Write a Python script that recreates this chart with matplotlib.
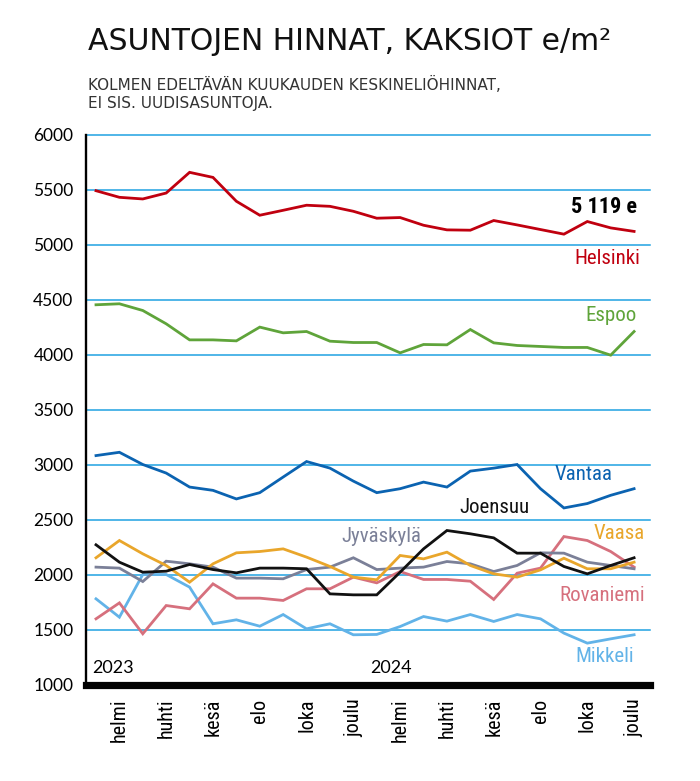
import matplotlib
matplotlib.use("Agg")
import matplotlib.pyplot as plt
from matplotlib import font_manager as fm

# ---- data ----
months = list(range(24))  # Jan 2023 .. Dec 2024
tick_pos = [1, 3, 5, 7, 9, 11, 13, 15, 17, 19, 21, 23]
tick_labels = ["helmi", "huhti", "kesä", "elo", "loka", "joulu",
               "helmi", "huhti", "kesä", "elo", "loka", "joulu"]
yticks = [1000, 1500, 2000, 2500, 3000, 3500, 4000, 4500, 5000, 5500, 6000]

helsinki = [5489, 5429, 5414, 5468, 5656, 5610, 5393, 5266, 5311, 5357, 5347, 5302,
            5239, 5245, 5175, 5133, 5130, 5218, 5178, 5136, 5094, 5209, 5151, 5119]
espoo = [4452, 4461, 4400, 4279, 4133, 4133, 4124, 4249, 4197, 4209, 4121, 4109,
         4109, 4015, 4091, 4088, 4227, 4106, 4082, 4073, 4064, 4064, 3994, 4209]
vantaa = [3081, 3111, 3000, 2922, 2795, 2765, 2687, 2744, 2886, 3027, 2967, 2849,
          2744, 2780, 2840, 2795, 2940, 2967, 3000, 2780, 2605, 2645, 2720, 2780]
joensuu = [2270, 2112, 2021, 2030, 2091, 2045, 2015, 2058, 2058, 2052, 1824, 1815,
           1815, 2021, 2233, 2400, 2370, 2333, 2194, 2194, 2073, 2006, 2082, 2152]
vaasa = [2152, 2309, 2188, 2082, 1930, 2097, 2197, 2209, 2233, 2158, 2073, 1976,
         1952, 2173, 2142, 2203, 2082, 2006, 1976, 2042, 2148, 2052, 2052, 2112]
jyvaskyla = [2067, 2058, 1936, 2121, 2097, 2067, 1967, 1967, 1961, 2045, 2067, 2152,
             2045, 2058, 2067, 2118, 2097, 2027, 2082, 2197, 2194, 2112, 2082, 2052]
rovaniemi = [1597, 1742, 1461, 1718, 1688, 1915, 1785, 1785, 1764, 1870, 1870, 1976,
             1924, 2027, 1955, 1955, 1939, 1773, 2012, 2058, 2345, 2309, 2209, 2067]
mikkeli = [1779, 1612, 2000, 2000, 1885, 1552, 1588, 1530, 1636, 1506, 1552, 1452,
           1455, 1527, 1618, 1576, 1636, 1573, 1636, 1597, 1467, 1376, 1415, 1452]

# ---- fonts ----
names = {f.name for f in fm.fontManager.ttflist}
cond = None
for cand in ["Liberation Sans Narrow", "Roboto Condensed", "Open Sans Condensed",
             "Noto Sans Condensed", "DejaVu Sans Condensed"]:
    if cand in names:
        cond = dict(family=cand)
        break
if cond is None:
    cond = dict(family="DejaVu Sans", fontstretch="condensed")
main_font = "Lato" if "Lato" in names else "DejaVu Sans"
title_font = "DejaVu Sans"

fig = plt.figure(figsize=(7.0, 7.81), dpi=100)
ax = fig.add_axes([86 / 700, 1 - 684.5 / 781, (650 - 86) / 700, (684.5 - 134.5) / 781])

grid_c = "#1fa2e2"
for y in yticks[1:]:
    ax.axhline(y, color=grid_c, lw=1.1, zorder=1, clip_on=False)

series = [
    (mikkeli, "#62b3e8"),
    (rovaniemi, "#d6707d"),
    (jyvaskyla, "#7b8098"),
    (vaasa, "#e9a62b"),
    (joensuu, "#111111"),
    (vantaa, "#0b63b1"),
    (espoo, "#5fa43a"),
    (helsinki, "#c0000f"),
]
for vals, c in series:
    ax.plot(months, vals, color=c, lw=2.0, zorder=3, solid_joinstyle="miter")

ax.set_xlim(-0.4275, 23.68)
ax.set_ylim(1000, 6000)
ax.set_yticks(yticks)
ax.set_yticklabels([str(v) for v in yticks], fontsize=12.5, family=main_font)
ax.set_xticks(tick_pos)
ax.set_xticklabels(tick_labels, rotation=90, va="top", ha="center", fontsize=14.5, **cond)
ax.tick_params(axis="y", length=0, pad=9)
ax.tick_params(axis="x", length=0, pad=10)
for s in ["top", "right"]:
    ax.spines[s].set_visible(False)
ax.spines["left"].set_linewidth(1.7)
ax.spines["bottom"].set_linewidth(5.2)
ax.spines["bottom"].set_capstyle("projecting")

lab = dict(ha="right", va="center", fontsize=15, zorder=5, **cond)
ax.text(23.13, 5341, "5 119 e", color="black", fontweight="bold",
        **{**lab, "fontsize": 16})
ax.text(23.26, 4877, "Helsinki", color="#c0000f", **lab)
ax.text(23.09, 4359, "Espoo", color="#5fa43a", **lab)
ax.text(22.1, 2905, "Vantaa", color="#0b63b1", **lab)
ax.text(18.55, 2605, "Joensuu", color="#111111", **lab)
ax.text(13.9, 2350, "Jyväskylä", color="#7b8098", **lab)
ax.text(23.47, 2377, "Vaasa", color="#e9a62b", **lab)
ax.text(23.47, 1805, "Rovaniemi", color="#d6707d", **lab)
ax.text(23.0, 1250, "Mikkeli", color="#62b3e8", **lab)

ax.text(-0.17, 1150, "2023", ha="left", va="center", fontsize=13, family=main_font, color="black")
ax.text(11.7, 1150, "2024", ha="left", va="center", fontsize=13, family=main_font, color="black")

fig.text(88 / 700, 1 - 50 / 781, "ASUNTOJEN HINNAT, KAKSIOT e/m²", fontsize=21.5,
         family=title_font, ha="left", va="baseline", color="#111111")
fig.text(88 / 700, 1 - 90 / 781, "KOLMEN EDELTÄVÄN KUUKAUDEN KESKINELIÖHINNAT,",
         fontsize=11, family=title_font, ha="left", va="baseline", color="#333333")
fig.text(88 / 700, 1 - 108 / 781, "EI SIS. UUDISASUNTOJA.",
         fontsize=11, family=title_font, ha="left", va="baseline", color="#333333")

fig.savefig("out.png", dpi=100, facecolor="white")
